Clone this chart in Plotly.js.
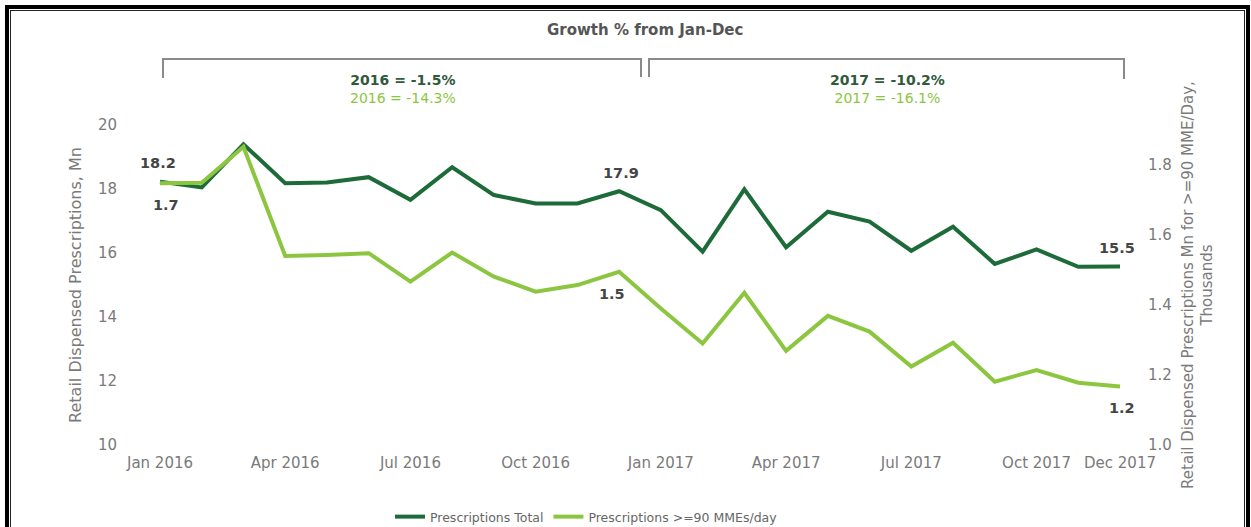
<!DOCTYPE html>
<html>
<head>
<meta charset="utf-8">
<script src="https://cdn.plot.ly/plotly-3.0.1.min.js"></script>
<style>
  html, body { margin: 0; padding: 0; background: #fff; overflow: hidden; }
  #chart { position: absolute; left: 0; top: 0; width: 1251px; height: 527px; }
  #frameOuter { position: absolute; left: 5px; top: 5px; width: 1237px; height: 540px;
    border: 4px solid #000; border-bottom: none; pointer-events: none; }
  #frameInner { position: absolute; left: 1px; top: 1px; right: 1px; bottom: 0;
    border: 1px solid #222; border-bottom: none; }
</style>
</head>
<body>
<div id="chart"></div>
<div id="frameOuter"><div id="frameInner"></div></div>
<script>
// ---- Data ----
const months = [
  "Jan 2016","Feb 2016","Mar 2016","Apr 2016","May 2016","Jun 2016",
  "Jul 2016","Aug 2016","Sep 2016","Oct 2016","Nov 2016","Dec 2016",
  "Jan 2017","Feb 2017","Mar 2017","Apr 2017","May 2017","Jun 2017",
  "Jul 2017","Aug 2017","Sep 2017","Oct 2017","Nov 2017","Dec 2017"
];
const prescriptionsTotal = [
  18.23, 18.05, 19.40, 18.18, 18.20, 18.37,
  17.66, 18.68, 17.81, 17.55, 17.55, 17.93,
  17.34, 16.04, 17.99, 16.18, 17.29, 16.98,
  16.07, 16.82, 15.66, 16.11, 15.57, 15.58
];
const prescriptions90MME = [
  1.748, 1.749, 1.852, 1.540, 1.543, 1.548,
  1.467, 1.550, 1.481, 1.438, 1.457, 1.495,
  1.390, 1.290, 1.435, 1.269, 1.369, 1.324,
  1.224, 1.292, 1.181, 1.214, 1.178, 1.167
];
const tickMonths = ["Jan 2016","Apr 2016","Jul 2016","Oct 2016","Jan 2017","Apr 2017","Jul 2017","Oct 2017","Dec 2017"];
const leftTicks = [10, 12, 14, 16, 18, 20];
const rightTicks = [1.0, 1.2, 1.4, 1.6, 1.8];
const growthTitle = "Growth % from Jan-Dec";
const growth2016 = ["2016 = -1.5%", "2016 = -14.3%"];
const growth2017 = ["2017 = -10.2%", "2017 = -16.1%"];
const seriesNames = ["Prescriptions Total", "Prescriptions >=90 MMEs/day"];

// ---- Style ----
const DARK = "#1e6b3a";
const LIGHT = "#8cc641";
const GRAY = "#7a7a7a";
const DARKTXT = "#2f5a3c";
const FONT = "DejaVu Sans, Verdana, sans-serif";

// pixel -> paper helpers (plot area: x 122..1143, y 125..445)
const L = 122, R = 108, T = 125, B = 82, W = 1251, H = 527;
const PW = W - L - R, PH = H - T - B;
const px = v => (v - L) / PW;
const py = v => (H - B - v) / PH;

const traces = [
  { x: months, y: prescriptionsTotal, name: seriesNames[0], type: "scatter", mode: "lines",
    line: { color: DARK, width: 4 }, yaxis: "y" },
  { x: months, y: prescriptions90MME, name: seriesNames[1], type: "scatter", mode: "lines",
    line: { color: LIGHT, width: 4 }, yaxis: "y2" }
];

const labelFont = { family: FONT, size: 14.5, color: "#454545", weight: "bold" };
const last = months.length - 1;
const paperText = (text, x, y, font) => ({ text, xref: "paper", yref: "paper", x: px(x), y: py(y),
  xanchor: "center", yanchor: "middle", showarrow: false, font });
const growthBlock = g =>
  `<b><span style="color:${DARKTXT}">${g[0]}</span></b><br><span style="color:${LIGHT}">${g[1]}</span>`;
const annotations = [
  paperText(growthTitle, 645, 30, { family: FONT, size: 15, color: "#555", weight: "bold" }),
  paperText(growthBlock(growth2016), 403, 89, { family: FONT, size: 14, color: DARKTXT }),
  paperText(growthBlock(growth2017), 887, 89, { family: FONT, size: 14, color: DARKTXT }),
  // data labels
  { text: prescriptionsTotal[0].toFixed(1), x: months[0], y: prescriptionsTotal[0], xref: "x", yref: "y",
    showarrow: false, yshift: 19, xshift: -2, font: labelFont },
  { text: "1.7", x: months[0], y: prescriptions90MME[0], xref: "x", yref: "y2",
    showarrow: false, yshift: -22, xshift: 6, font: labelFont },
  { text: "17.9", x: months[11], y: prescriptionsTotal[11], xref: "x", yref: "y",
    showarrow: false, yshift: 18, xshift: 2, font: labelFont },
  { text: "1.5", x: months[11], y: prescriptions90MME[11], xref: "x", yref: "y2",
    showarrow: false, yshift: -22, xshift: -7, font: labelFont },
  { text: "15.5", x: months[last], y: prescriptionsTotal[last], xref: "x", yref: "y",
    showarrow: false, yshift: 18, xshift: -3, font: labelFont },
  { text: prescriptions90MME[last].toFixed(1), x: months[last], y: prescriptions90MME[last], xref: "x", yref: "y2",
    showarrow: false, yshift: -21, xshift: 2, font: labelFont }
];

const bracketLine = { color: "#8a8a8a", width: 2 };
const shapes = [
  { type: "path", xref: "paper", yref: "paper",
    path: `M ${px(163)} ${py(78)} L ${px(163)} ${py(59)} L ${px(641)} ${py(59)} L ${px(641)} ${py(77)}`,
    line: bracketLine },
  { type: "path", xref: "paper", yref: "paper",
    path: `M ${px(649)} ${py(77)} L ${px(649)} ${py(59)} L ${px(1124)} ${py(59)} L ${px(1124)} ${py(79)}`,
    line: bracketLine }
];

const layout = {
  width: W, height: H,
  margin: { l: L, r: R, t: T, b: B, autoexpand: false },
  paper_bgcolor: "#fff", plot_bgcolor: "#fff",
  font: { family: FONT, color: GRAY },
  showlegend: true,
  legend: { orientation: "h", x: px(390), xanchor: "left", y: py(517), yanchor: "middle",
    font: { family: FONT, size: 12.5, color: "#666" }, bgcolor: "rgba(0,0,0,0)" },
  xaxis: {
    type: "category", categoryorder: "array", categoryarray: months,
    range: [-(160 - L) / ((1120 - 160) / 23), 23 + (1143 - 1120) / ((1120 - 160) / 23)],
    tickmode: "array", tickvals: tickMonths, ticktext: tickMonths,
    showgrid: false, zeroline: false, showline: false, ticks: "",
    tickfont: { family: FONT, size: 15, color: GRAY }, ticklabelstandoff: 7
  },
  yaxis: {
    range: [10, 20], tickmode: "array", tickvals: leftTicks,
    showgrid: false, zeroline: false, showline: false, ticks: "",
    tickfont: { family: FONT, size: 15, color: GRAY }, ticklabelstandoff: 4,
    title: { text: "Retail Dispensed Prescriptions, Mn", standoff: 12,
      font: { family: FONT, size: 16, color: GRAY } }
  },
  yaxis2: {
    overlaying: "y", side: "right",
    range: [1.0, 1.0 + 320 / 350], tickmode: "array", tickvals: rightTicks,
    tickformat: ".1f",
    showgrid: false, zeroline: false, showline: false, ticks: "",
    tickfont: { family: FONT, size: 15, color: GRAY }, ticklabelstandoff: 4,
    title: { text: "Retail Dispensed Prescriptions Mn for >=90 MME/Day,<br>Thousands", standoff: 11,
      font: { family: FONT, size: 15, color: GRAY } }
  },
  annotations: annotations,
  shapes: shapes
};

Plotly.newPlot("chart", traces, layout, { staticPlot: true, displayModeBar: false });
</script>
</body>
</html>
